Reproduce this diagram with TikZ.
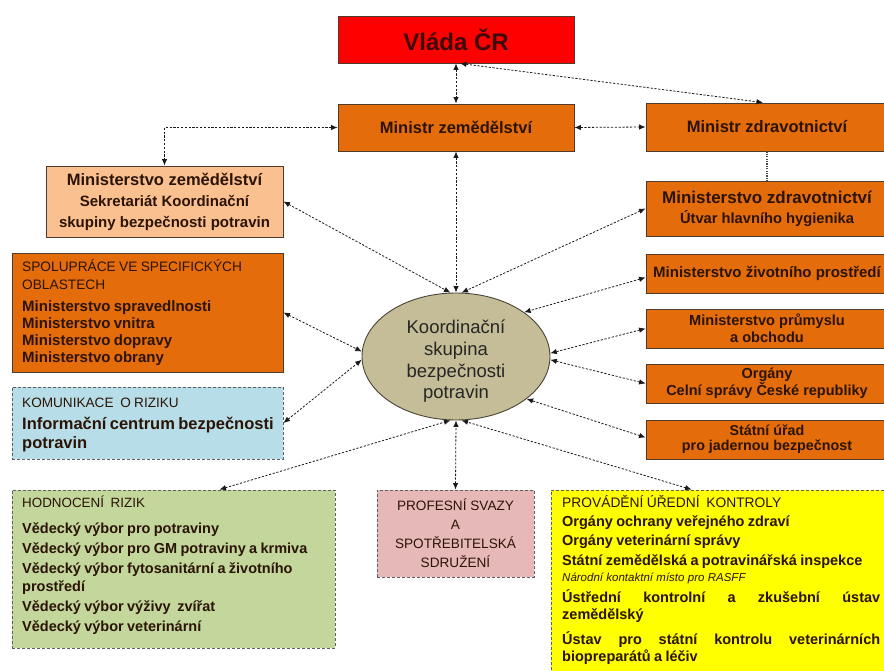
\documentclass[tikz,border=0pt]{standalone}
\usepackage{fontspec}
\setmainfont{Liberation Sans}
\usetikzlibrary{arrows.meta,shapes.geometric}
\definecolor{cRed}{HTML}{FF0000}
\definecolor{cOrange}{HTML}{E46C0A}
\definecolor{cPeach}{HTML}{FAC090}
\definecolor{cBlue}{HTML}{B7DEE8}
\definecolor{cGreen}{HTML}{C3D69B}
\definecolor{cPink}{HTML}{E6B9B8}
\definecolor{cYellow}{HTML}{FFFF00}
\definecolor{cEll}{HTML}{C4BD97}
\definecolor{cEllB}{HTML}{4A4436}
\definecolor{cBorder}{HTML}{4F3B2B}
\definecolor{cDash}{HTML}{5F5F5F}
\definecolor{cText}{HTML}{2B1405}
\definecolor{cVtext}{HTML}{3B0A0A}
\definecolor{cLine}{HTML}{1A1A1A}
\begin{document}
\begin{tikzpicture}[x=1pt,y=-1pt,
  solidbox/.style={draw=cBorder, line width=0.9pt, inner sep=0pt, text=cText, align=center},
  dashbox/.style={draw=cDash, line width=0.9pt, dash pattern=on 3pt off 2pt, inner sep=0pt, text=cText, align=center},
  txt/.style={text=cText, inner sep=0pt, align=left, anchor=base west},
  link/.style={draw=cLine, line width=0.8pt, dash pattern=on 2.2pt off 1.6pt,
    {Latex[length=6.5pt,width=5.5pt]}-{Latex[length=6.5pt,width=5.5pt]}},
  dotline/.style={draw=cLine!80, line width=1.2pt, dash pattern=on 1.2pt off 1.2pt},
]
\path[use as bounding box] (0,0) rectangle (884,671);
\clip (0,0) rectangle (884,671);

% top
\node[solidbox, fill=cRed, text=cVtext, minimum width=236pt, minimum height=47pt,
  font=\fontsize{24}{28}\selectfont\bfseries] (vlada) at (456,39.5) {Vláda ČR};
\node[solidbox, fill=cOrange, minimum width=236pt, minimum height=47pt,
  font=\fontsize{16.5}{20}\selectfont\bfseries] (minzem) at (456,127.5) {Ministr zemědělství};
\node[solidbox, fill=cOrange, minimum width=242pt, minimum height=48pt,
  font=\fontsize{16.5}{20}\selectfont\bfseries] (minzdr) at (767,127) {Ministr zdravotnictví};

% right column
\node[solidbox, fill=cOrange, minimum width=242pt, minimum height=55pt,
  font=\fontsize{14.7}{20}\selectfont\bfseries] (mzdr) at (767,208.5)
  {{\fontsize{17}{20}\selectfont Ministerstvo zdravotnictví}\\Útvar hlavního hygienika};
\node[solidbox, fill=cOrange, minimum width=242pt, minimum height=39pt,
  font=\fontsize{15}{18}\selectfont\bfseries] (mziv) at (767,273.5) {Ministerstvo životního prostředí};
\node[solidbox, fill=cOrange, minimum width=242pt, minimum height=39pt,
  font=\fontsize{14.6}{17}\selectfont\bfseries] (mprum) at (767,328.5) {Ministerstvo průmyslu\\a obchodu};
\node[solidbox, fill=cOrange, minimum width=242pt, minimum height=39pt,
  font=\fontsize{14.5}{15}\selectfont\bfseries] (celni) at (767,383.5) {Orgány\\Celní správy České republiky};
\node[solidbox, fill=cOrange, minimum width=242pt, minimum height=39pt,
  font=\fontsize{14.3}{15}\selectfont\bfseries] (sujb) at (767,439.5) {Státní úřad\\pro jadernou bezpečnost};

% left column
\node[solidbox, fill=cPeach, minimum width=237pt, minimum height=71pt,
  font=\fontsize{15}{21}\selectfont\bfseries] (mzem) at (164.5,201.5)
  {{\fontsize{16.5}{21}\selectfont Ministerstvo zemědělství}\\Sekretariát Koordinační\\skupiny bezpečnosti potravin};
\node[solidbox, fill=cOrange, minimum width=271pt, minimum height=119pt] (spol) at (147.5,312.5) {};
\node[txt, text width=300pt] (spolt) at (22,272)
  {\fontsize{13.7}{18}\selectfont SPOLUPRÁCE VE SPECIFICKÝCH\\OBLASTECH\par
   \vspace{4.5pt}\fontsize{15}{17}\selectfont\bfseries
   Ministerstvo spravedlnosti\\Ministerstvo vnitra\\Ministerstvo dopravy\\Ministerstvo obrany\par};
\node[dashbox, fill=cBlue, minimum width=271pt, minimum height=72pt] (kom) at (147.5,423) {};
\node[txt, text width=300pt] (komt) at (22,407)
  {\fontsize{13.6}{18}\selectfont KOMUNIKACE~ O RIZIKU\par
   \vspace{3.5pt}\fontsize{16.5}{19}\selectfont\bfseries
   Informační centrum bezpečnosti\\potravin\par};

% centre
\node[ellipse, draw=cEllB, fill=cEll, line width=0.9pt, minimum width=188pt, minimum height=127pt,
  inner sep=0pt] (ksbp) at (456,356.5) {};
\node[inner sep=0pt, align=center, text=black!85, font=\fontsize{18.5}{21.7}\selectfont]
  (ksbpt) at (456,361.5) {Koordinační\\skupina\\bezpečnosti\\potravin};

% bottom row
\node[dashbox, fill=cGreen, minimum width=323pt, minimum height=158pt] (hod) at (173.5,569) {};
\node[txt, text width=320pt] (hodt) at (22,507)
  {\fontsize{13.4}{18}\selectfont HODNOCENÍ~ RIZIK\par
   \vspace{6pt}\fontsize{14.5}{20}\selectfont\bfseries
   Vědecký výbor pro potraviny\\
   Vědecký výbor pro GM potraviny a krmiva\\
   Vědecký výbor fytosanitární a životního\\[-2pt]
   prostředí\\
   Vědecký výbor výživy~ zvířat\\
   Vědecký výbor veterinární\par};
\node[dashbox, fill=cPink, minimum width=157pt, minimum height=87pt,
  font=\fontsize{13.6}{19}\selectfont] (prof) at (455.5,533.5)
  {PROFESNÍ SVAZY\\A\\SPOTŘEBITELSKÁ\\SDRUŽENÍ};
\node[dashbox, fill=cYellow, minimum width=344pt, minimum height=200pt] (prov) at (723,590) {};
\node[txt, text width=318pt] (provt) at (562,507)
  {\fontsize{13.8}{18}\selectfont PROVÁDĚNÍ ÚŘEDNÍ~ KONTROLY\par
   \vspace{2pt}\fontsize{14.5}{17}\selectfont\bfseries
   Orgány ochrany veřejného zdraví\\[2pt]
   Orgány veterinární správy\\[3pt]
   Státní zemědělská a potravinářská inspekce\\[-1pt]
   {\mdseries\itshape\fontsize{11.5}{17}\selectfont Národní kontaktní místo pro RASFF}\\[4pt]
   Ústřední \hfill kontrolní \hfill a \hfill zkušební \hfill ústav\\
   zemědělský\\[8pt]
   Ústav \hfill pro \hfill státní \hfill kontrolu \hfill veterinárních\\
   biopreparátů a léčiv\par};

% connectors
\draw[link] (vlada.south) -- (minzem.north);
\draw[link] ([xshift=4pt]vlada.south) -- ([xshift=-4pt]minzdr.north);
\draw[link] (minzem.west) -| (mzem.north);
\draw[link] (minzem.east) -- (minzdr.west);
\draw[link] (minzem.south) -- (ksbp.north);
\draw[dotline] (minzdr.south) -- (mzdr.north);
\draw[link] (mzem.east) -- (ksbp.95);
\draw[link] (mzdr.west) -- (ksbp.85);
\draw[link] ([yshift=-4pt]mziv.west) -- (ksbp.33);
\draw[link] (mprum.west) -- (ksbp.2);
\draw[link] (celni.west) -- (ksbp.-2);
\draw[link] ([yshift=2pt]sujb.west) -- (ksbp.-31);
\draw[link] (spol.east) -- (ksbp.177);
\draw[link] (kom.east) -- (ksbp.182);
\draw[link] ([xshift=208pt]hod.north west) -- (ksbp.-95);
\draw[link] (prof.north) -- (ksbp.south);
\draw[link] ([xshift=141pt]prov.north west) -- (ksbp.-85);
\end{tikzpicture}
\end{document}
